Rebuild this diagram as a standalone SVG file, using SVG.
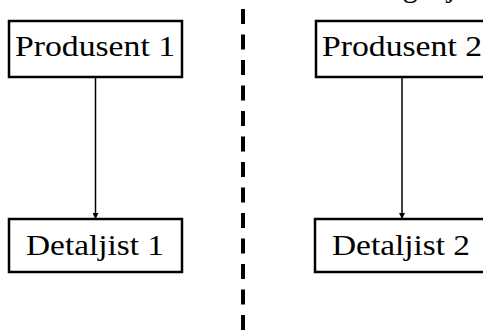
<svg xmlns="http://www.w3.org/2000/svg" width="483" height="335" viewBox="0 0 483 335">
<style>
.box{fill:#fff;stroke:#000;stroke-width:2.5}
.lbl{font-family:"Liberation Serif","DejaVu Serif",serif;font-size:30px;fill:#000}
.con{stroke:#000;stroke-width:1.5;fill:none}
</style>
<defs>
<marker id="ah" viewBox="0 0 8 8" refX="8" refY="4" markerWidth="6" markerHeight="6" markerUnits="userSpaceOnUse" orient="auto">
<path d="M0,0 L8,4 L0,8 Z" fill="#000"/>
</marker>
</defs>
<rect width="483" height="335" fill="#fff"/>
<text class="lbl" x="364" y="-3" textLength="118" lengthAdjust="spacing">integrasjon</text>
<line x1="243" y1="9" x2="243" y2="335" stroke="#000" stroke-width="4" stroke-dasharray="15 10.5"/>
<g id="connectors">
<line class="con" x1="95.5" y1="78" x2="95.5" y2="219" marker-end="url(#ah)"/>
<line class="con" x1="402" y1="78" x2="402" y2="219" marker-end="url(#ah)"/>
</g>
<g id="produsent1">
<rect class="box" x="9" y="21" width="173" height="56"/>
<text class="lbl" x="15" y="56" textLength="160" lengthAdjust="spacingAndGlyphs">Produsent 1</text>
</g>
<g id="detaljist1">
<rect class="box" x="9" y="219" width="173" height="53"/>
<text class="lbl" x="26" y="255" textLength="138" lengthAdjust="spacingAndGlyphs">Detaljist 1</text>
</g>
<g id="produsent2">
<rect class="box" x="316" y="21" width="173" height="56"/>
<text class="lbl" x="322" y="56" textLength="160" lengthAdjust="spacingAndGlyphs">Produsent 2</text>
</g>
<g id="detaljist2">
<rect class="box" x="315" y="219" width="173" height="53"/>
<text class="lbl" x="332" y="255" textLength="138" lengthAdjust="spacingAndGlyphs">Detaljist 2</text>
</g>
</svg>
